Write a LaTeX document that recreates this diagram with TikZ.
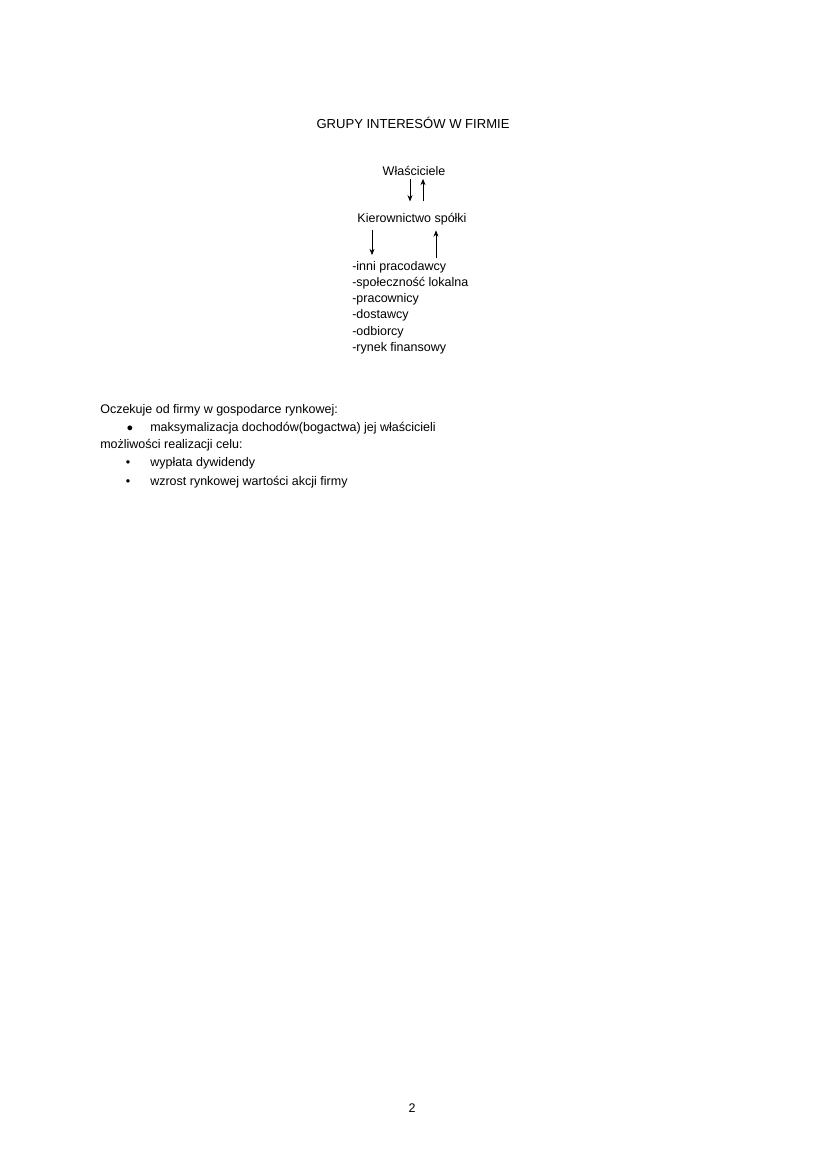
\documentclass[tikz,border=0pt]{standalone}
\usepackage{fontspec}
\setmainfont{Liberation Sans}
\usetikzlibrary{arrows.meta}
\begin{document}
\begin{tikzpicture}[x=0.72pt,y=-0.72pt,
  txt/.style={inner sep=0pt,font=\fontsize{9}{11}\selectfont},
  lst/.style={txt,anchor=base west},
  arr/.style={line width=0.5pt,-{Stealth[length=4.5pt,width=3.6pt]}}]
\useasboundingbox[fill=white] (0,0) rectangle (826,1169);
\node[txt,anchor=base,font=\fontsize{9.4}{11}\selectfont] (title) at (413,128.5) {GRUPY INTERESÓW W FIRMIE};
\node[txt,anchor=base] (w) at (414,175) {Właściciele};
\node[txt,anchor=base] (k) at (412,222) {Kierownictwo spółki};
\node[lst] (l1) at (352,270) {-inni pracodawcy};
\node[lst] (l2) at (352,286.3) {-społeczność lokalna};
\node[lst] (l3) at (352,302.6) {-pracownicy};
\node[lst] (l4) at (352,318.9) {-dostawcy};
\node[lst] (l5) at (352,335.2) {-odbiorcy};
\node[lst] (l6) at (352,351.5) {-rynek finansowy};
\coordinate (a1) at (410,0);
\coordinate (a2) at (423,0);
\coordinate (a3) at (372,0);
\coordinate (a4) at (436,0);
\draw[arr] ([yshift=-2.5pt]w.south -| a1) -- ([yshift=8pt]k.north -| a1);
\draw[arr] ([yshift=8pt]k.north -| a2) -- ([yshift=-2.5pt]w.south -| a2);
\draw[arr] ([yshift=-4pt]k.south -| a3) -- ([yshift=4pt]l1.north -| a3);
\draw[arr] ([yshift=2pt]l1.north -| a4) -- ([yshift=-4pt]k.south -| a4);
\node[lst] (b0) at (100,413) {Oczekuje od firmy w gospodarce rynkowej:};
\node[lst] (b1) at (150,431) {maksymalizacja dochodów(bogactwa) jej właścicieli};
\node[txt,anchor=base] (d1) at (130,431) {\fontsize{8}{10}\selectfont ●};
\node[lst] (b2) at (100,448) {możliwości realizacji celu:};
\node[lst] (b3) at (150,466) {wypłata dywidendy};
\node[txt,anchor=base] (d3) at (128,466) {•};
\node[lst] (b4) at (150,485) {wzrost rynkowej wartości akcji firmy};
\node[txt,anchor=base] (d4) at (128,485) {•};
\node[txt,anchor=base] (pg) at (412,1112) {2};
\end{tikzpicture}
\end{document}
